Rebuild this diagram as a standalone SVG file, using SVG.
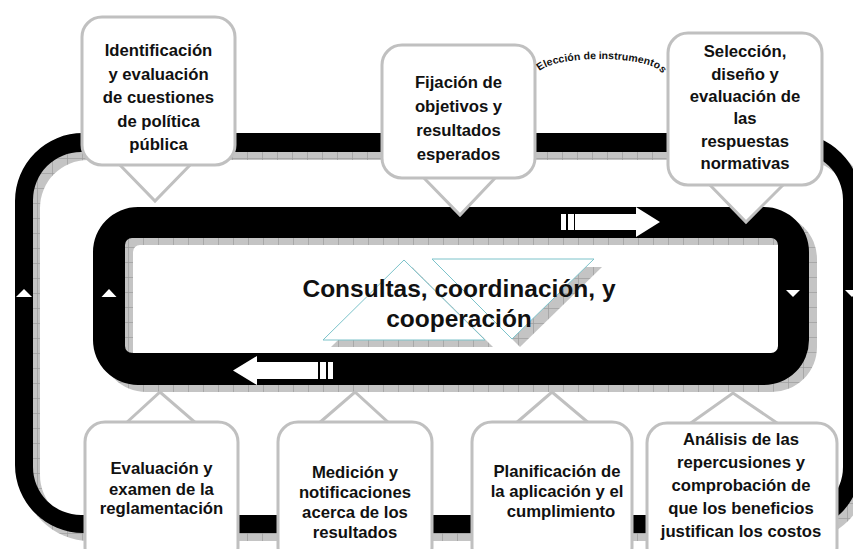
<svg xmlns="http://www.w3.org/2000/svg" xmlns:xlink="http://www.w3.org/1999/xlink" width="853" height="549" viewBox="0 0 853 549">
<style>
.txt{font-family:"Liberation Sans",Arial,sans-serif;font-weight:bold;fill:#111;text-anchor:middle}
.lbl{font-size:16.7px}
.box{fill:#fff;stroke:#c0c0c0;stroke-width:3}
.ptr{fill:#fff;stroke:#c0c0c0;stroke-width:3;stroke-linejoin:miter}
.loop{fill:#000;fill-rule:evenodd}
.shadow{fill:url(#grid);fill-rule:evenodd}
.wh{fill:#fff}
.trish{fill:url(#grid)}
</style>
<defs>
<pattern id="grid" width="15" height="15" patternUnits="userSpaceOnUse">
<rect width="15" height="15" fill="#c4c4c4"/>
<path d="M0,0.4H15M0.4,0V15" stroke="#9c9c9c" stroke-width="0.8" fill="none"/>
</pattern>
<path id="outerLoop" d="M83,133H793A68,68 0 0 1 861,201V465A68,68 0 0 1 793,533H83A68,68 0 0 1 15,465V201A68,68 0 0 1 83,133Z M81,152H795A48,48 0 0 1 843,200V467A48,48 0 0 1 795,515H81A48,48 0 0 1 33,467V200A48,48 0 0 1 81,152Z"/>
<path id="innerLoop" d="M138,207H764A45,45 0 0 1 809,252V340A45,45 0 0 1 764,385H138A45,45 0 0 1 93,340V252A45,45 0 0 1 138,207Z M132,238H771A7,7 0 0 1 778,245V346A7,7 0 0 1 771,353H132A7,7 0 0 1 125,346V245A7,7 0 0 1 132,238Z"/>
<path id="triA" d="M404,260L485,340H323Z"/>
<path id="triB" d="M432,259H594L512,339Z"/>
<path id="arc" d="M538,75A62,16 0 0 1 662,75"/>
</defs>
<rect width="853" height="549" fill="#fff"/>

<g id="connectors">
<use xlink:href="#outerLoop" class="shadow" transform="translate(7,8)"/>
<use xlink:href="#outerLoop" class="loop"/>
<use xlink:href="#innerLoop" class="shadow" transform="translate(8,7)"/>
<use xlink:href="#innerLoop" class="loop"/>
<path class="wh" d="M575,214H636V207L660,222L636,237V230H575Z"/>
<rect class="wh" x="561" y="214" width="5" height="16"/>
<rect class="wh" x="568" y="214" width="6" height="16"/>
<path class="wh" d="M318,362H257V356L233,370.5L257,385V379H318Z"/>
<rect class="wh" x="320" y="362" width="6" height="17"/>
<rect class="wh" x="328" y="362" width="5" height="17"/>
<polygon class="wh" points="16,297 32,297 24,289"/>
<polygon class="wh" points="101.5,297 116.5,297 109,289"/>
<polygon class="wh" points="786,290 800,290 793,297"/>
<polygon class="wh" points="845,290 859,290 852,297"/>
</g>

<g id="center">
<use xlink:href="#triA" class="trish" transform="translate(8,7)"/>
<use xlink:href="#triB" class="trish" transform="translate(8,8)"/>
<use xlink:href="#triA" fill="#fff"/>
<use xlink:href="#triB" fill="#fff"/>
<use xlink:href="#triA" fill="none" stroke="#7cc3ca" stroke-width="1"/>
<use xlink:href="#triB" fill="none" stroke="#7cc3ca" stroke-width="1"/>
<text class="txt" font-size="24.5" x="459" y="297">Consultas, coordinación, y</text>
<text class="txt" font-size="24.5" x="459" y="327">cooperación</text>
</g>

<g id="n1">
<polygon class="ptr" points="118,163 155,201 192,163"/>
<rect class="box" x="82" y="17" width="153" height="148" rx="20"/>
<text class="txt lbl" x="158.5" y="56">Identificación</text>
<text class="txt lbl" x="158.5" y="79.5">y evaluación</text>
<text class="txt lbl" x="158.5" y="103">de cuestiones</text>
<text class="txt lbl" x="158.5" y="126.5">de política</text>
<text class="txt lbl" x="158.5" y="150">pública</text>
</g>

<g id="n2">
<polygon class="ptr" points="422,176 460,215 497,176"/>
<rect class="box" x="382" y="45" width="153" height="133" rx="20"/>
<text class="txt lbl" x="458.5" y="88">Fijación de</text>
<text class="txt lbl" x="458.5" y="112">objetivos y</text>
<text class="txt lbl" x="458.5" y="136">resultados</text>
<text class="txt lbl" x="458.5" y="160">esperados</text>
</g>

<g id="n3">
<polygon class="ptr" points="708,183 746,222 785,183"/>
<rect class="box" x="668" y="33" width="154" height="152" rx="20"/>
<text class="txt lbl" x="745" y="57">Selección,</text>
<text class="txt lbl" x="745" y="79.5">diseño y</text>
<text class="txt lbl" x="745" y="102">evaluación de</text>
<text class="txt lbl" x="745" y="124">las</text>
<text class="txt lbl" x="745" y="146.5">respuestas</text>
<text class="txt lbl" x="745" y="168.5">normativas</text>
</g>

<g id="eleccion">
<text class="txt" font-size="10.5" style="text-anchor:start"><textPath xlink:href="#arc" startOffset="4" textLength="128" lengthAdjust="spacing">Elección de instrumentos</textPath></text>
</g>

<g id="n4">
<polygon class="ptr" points="125,424 160,392 197,424"/>
<rect class="box" x="85" y="422" width="153" height="145" rx="20"/>
<text class="txt lbl" x="161.5" y="474">Evaluación y</text>
<text class="txt lbl" x="161.5" y="494.5">examen de la</text>
<text class="txt lbl" x="161.5" y="514">reglamentación</text>
</g>

<g id="n5">
<polygon class="ptr" points="318,424 355,392 390,424"/>
<rect class="box" x="278" y="422" width="154" height="145" rx="20"/>
<text class="txt lbl" x="355" y="478">Medición y</text>
<text class="txt lbl" x="355" y="498">notificaciones</text>
<text class="txt lbl" x="355" y="518">acerca de los</text>
<text class="txt lbl" x="355" y="538">resultados</text>
</g>

<g id="n6">
<polygon class="ptr" points="515,424 552,392 590,424"/>
<rect class="box" x="472" y="422" width="160" height="145" rx="20"/>
<text class="txt lbl" x="557" y="477">Planificación de</text>
<text class="txt lbl" x="557" y="497">la aplicación y el</text>
<text class="txt lbl" x="561" y="517">cumplimiento</text>
</g>

<g id="n7">
<polygon class="ptr" points="688,425 733,393 780,425"/>
<rect class="box" x="647" y="423" width="190" height="144" rx="20"/>
<text class="txt lbl" x="741" y="445">Análisis de las</text>
<text class="txt lbl" x="741" y="468">repercusiones y</text>
<text class="txt lbl" x="741" y="491">comprobación de</text>
<text class="txt lbl" x="741" y="514">que los beneficios</text>
<text class="txt lbl" x="741" y="537">justifican los costos</text>
</g>
</svg>
